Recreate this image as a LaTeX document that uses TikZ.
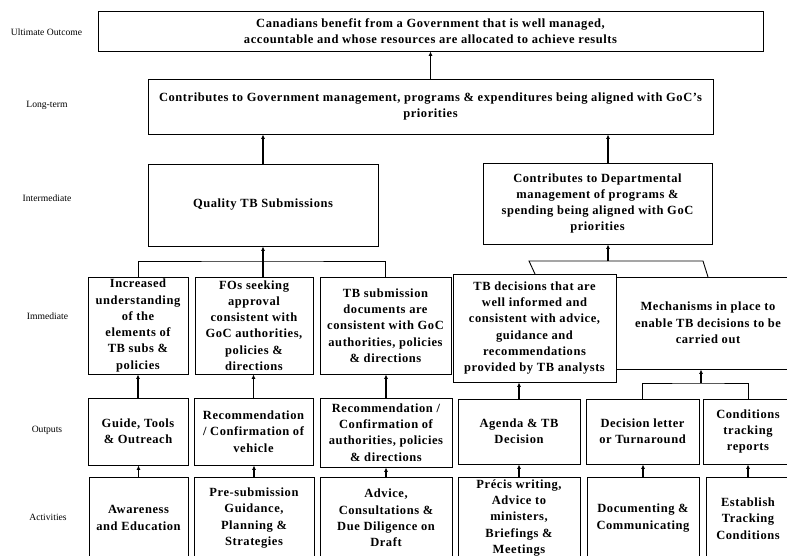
\documentclass[tikz,border=0pt]{standalone}
\usepackage{fontspec}
\setmainfont{Liberation Serif}
\newfontfamily\boxfont[LetterSpace=4.5,Ligatures=TeX]{Liberation Serif}
\usetikzlibrary{arrows.meta}
\begin{document}
\begin{tikzpicture}[x=1pt,y=-1pt,
  box/.style={draw, line width=0.9pt, inner sep=0pt, align=center, font=\boxfont\bfseries\fontsize{12.5}{16.3}\selectfont},
  lbl/.style={font=\fontsize{9.6}{11}\selectfont, inner sep=0pt},
  arr/.style={line width=1.1pt, -{Latex[length=4.5pt,width=4pt]}},
  ln/.style={line width=0.9pt}]
\useasboundingbox (0,0) rectangle (787,555);
\clip (0,0) rectangle (787,555);
% row labels
\node[lbl] (l1) at (46.5,32) {Ultimate Outcome};
\node[lbl] (l2) at (47,105) {Long-term};
\node[lbl] (l3) at (47,198) {Intermediate};
\node[lbl] (l4) at (47.5,316) {Immediate};
\node[lbl] (l5) at (47,430) {Outputs};
\node[lbl] (l6) at (48,517) {Activities};
% boxes
\node[box, minimum width=665, minimum height=40] (ult) at (430.5,31) {Canadians benefit from a Government that is well managed,\\accountable and whose resources are allocated to achieve results};
\node[box, minimum width=565, minimum height=55] (long) at (430.5,106.5) {Contributes to Government management, programs \& expenditures being aligned with GoC’s\\priorities};
\node[box, minimum width=230, minimum height=82] (qual) at (263,205) {Quality TB Submissions};
\node[box, minimum width=229, minimum height=81] (dept) at (597.5,203.5) {Contributes to Departmental\\management of programs \&\\spending being aligned with GoC\\priorities};
% immediate
\node[box, minimum width=100, minimum height=97] (imm1) at (138,325.5) {Increased\\understanding\\of the\\elements of\\TB subs \&\\policies};
\node[box, minimum width=118, minimum height=97] (imm2) at (254,325.5) {FOs seeking\\approval\\consistent with\\GoC authorities,\\policies \&\\directions};
\node[box, minimum width=131, minimum height=97] (imm3) at (385.5,325.5) {TB submission\\documents are\\consistent with GoC\\authorities, policies\\\& directions};
\node[box, minimum width=163, minimum height=108] (imm4) at (534.5,328) {TB decisions that are\\well informed and\\consistent with advice,\\guidance and\\recommendations\\provided by TB analysts};
\node[box, minimum width=184, minimum height=92] (imm5) at (708,323) {Mechanisms in place to\\enable TB decisions to be\\carried out};
% outputs
\node[box, minimum width=100, minimum height=67] (out1) at (138,431.5) {Guide, Tools\\\& Outreach};
\node[box, minimum width=119, minimum height=67] (out2) at (253.5,431.5) {Recommendation\\/ Confirmation of\\vehicle};
\node[box, minimum width=132, minimum height=69] (out3) at (386,432.5) {Recommendation /\\Confirmation of\\authorities, policies\\\& directions};
\node[box, minimum width=122, minimum height=65] (out4) at (519,431.5) {Agenda \& TB\\Decision};
\node[box, minimum width=113, minimum height=65] (out5) at (642.5,431.5) {Decision letter\\or Turnaround};
\node[box, minimum width=90, minimum height=65] (out6) at (748,431.5) {Conditions\\tracking\\reports};
% activities
\node[box, minimum width=99, minimum height=82] (act1) at (138.5,518) {Awareness\\and Education};
\node[box, minimum width=120, minimum height=82] (act2) at (254,518) {Pre-submission\\Guidance,\\Planning \&\\Strategies};
\node[box, minimum width=132, minimum height=82] (act3) at (386,518) {Advice,\\Consultations \&\\Due Diligence on\\Draft};
\node[box, minimum width=122, minimum height=82] (act4) at (519,518) {Précis writing,\\Advice to\\ministers,\\Briefings \&\\Meetings};
\node[box, minimum width=112, minimum height=82] (act5) at (643,518) {Documenting \&\\Communicating};
\node[box, minimum width=84, minimum height=82] (act6) at (748,518.5) {Establish\\Tracking\\Conditions};
% top connectors
\draw[arr] (long.north) -- (ult.south);
\draw[arr] (qual.north) -- (qual.north |- long.south);
\coordinate (rb) at (608,261);
\draw[arr] (dept.north -| rb) -- (rb |- long.south);
% left bracket
\coordinate (lb) at (263,261);
\draw[ln] (imm1.north) |- (lb) -| (imm3.north);
\draw[arr] (imm2.north -| lb) -- (qual.south);
% right trapezoid
\coordinate (k1) at (535,274);
\coordinate (k2) at (529,261);
\coordinate (k3) at (703,261);
\coordinate (k4) at (708,277);
\draw[ln] (k1) -- (k2) -- (k3) -- (k4);
\draw[arr] (rb) -- (rb |- dept.south);
% mechanisms bracket
\coordinate (mb) at (701,383);
\draw[ln] (out5.north) |- (mb) -| (out6.north);
\draw[arr] (mb) -- (mb |- imm5.south);
% outputs to immediate
\draw[arr] (out1.north) -- (out1.north |- imm1.south);
\draw[arr] (out2.north) -- (out2.north |- imm2.south);
\draw[arr] (out3.north) -- (out3.north |- imm3.south);
\draw[arr] (out4.north) -- (out4.north |- imm4.south);
% activities to outputs
\draw[arr] (act1.north) -- (act1.north |- out1.south);
\draw[arr] (act2.north) -- (act2.north |- out2.south);
\draw[arr] (act3.north) -- (act3.north |- out3.south);
\draw[arr] (act4.north) -- (act4.north |- out4.south);
\draw[arr] (act5.north) -- (act5.north |- out5.south);
\draw[arr] (act6.north) -- (act6.north |- out6.south);
\end{tikzpicture}
\end{document}
